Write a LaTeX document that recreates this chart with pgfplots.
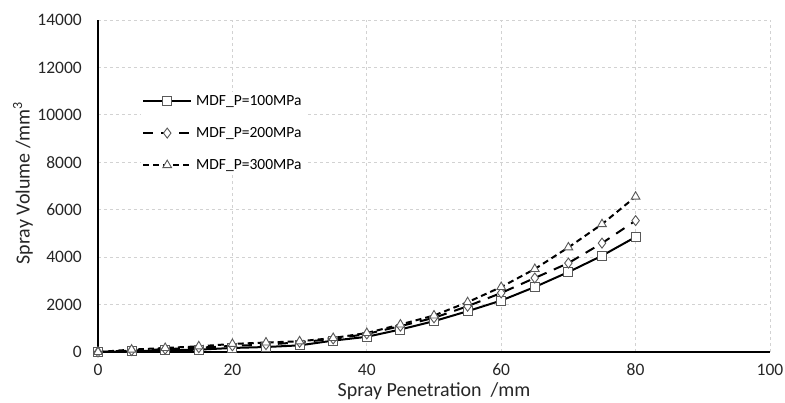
\documentclass[border=0pt]{standalone}
\usepackage{pgfplots}
\pgfplotsset{compat=1.18}
\usepackage{fontspec}
\setmainfont{Carlito}
\begin{document}
\begin{tikzpicture}[x=1pt,y=1pt]
\useasboundingbox (-98pt,-51pt) rectangle (687pt,352pt);
\begin{axis}[
  at={(0pt,0pt)}, anchor=south west,
  scale only axis,
  width=672pt, height=332pt,
  xmin=0, xmax=100, ymin=0, ymax=14000,
  xtick={0,20,...,100}, ytick={0,2000,...,14000},
  scaled ticks=false,
  axis x line*=bottom, axis y line*=left,
  axis line style={line width=1.8pt,-},
  major tick length=0pt,
  grid=major,
  major grid style={dashed,gray!35,line width=0.8pt},
  /pgf/number format/assume math mode=true,
  /pgf/number format/1000 sep={},
  ticklabel style={font=\fontsize{17.5}{20}\selectfont, text=black!85, inner sep=0pt},
  xticklabel style={anchor=center, yshift=-18pt},
  yticklabel style={anchor=east, xshift=-16pt},
  xlabel={Spray Penetration\ \ /mm},
  ylabel={Spray Volume /mm\textsuperscript{3}},
  label style={font=\fontsize{20}{24}\selectfont, text=black!85, inner sep=0pt},
  xlabel style={at={(axis description cs:0.5,0)}, anchor=center, yshift=-39pt},
  ylabel style={at={(axis description cs:0,0.5)}, anchor=center, yshift=75pt, xshift=3pt},
  legend style={draw=none, fill=white, at={(0.064,0.783)}, anchor=north west,
    font=\fontsize{15.5}{18}\selectfont, row sep=16.5pt, inner sep=1pt,
    nodes={inner xsep=4pt}},
  legend cell align=left,
  legend image code/.code={
    \draw[#1,mark repeat=2,mark phase=2] plot coordinates {(0pt,0pt) (24pt,0pt) (48pt,0pt)};},
  every axis plot/.append style={line width=2pt, black,
    mark options={solid, draw=black!65, fill=white, line width=0.9pt}},
  clip=false,
]
\addplot[mark=square*, mark size=4.5pt] coordinates {
(0,0) (5,30) (10,70) (15,100) (20,170) (25,210) (30,280) (35,480) (40,640)
(45,950) (50,1300) (55,1720) (60,2170) (65,2740) (70,3370) (75,4060) (80,4850)};
\addlegendentry{MDF\_P=100MPa}
\addplot[mark=diamond*, mark size=5pt, dash pattern=on 10pt off 8pt] coordinates {
(0,0) (5,60) (10,120) (15,180) (20,260) (25,310) (30,410) (35,550) (40,760)
(45,1090) (50,1440) (55,1930) (60,2490) (65,3120) (70,3750) (75,4590) (80,5540)};
\addlegendentry{MDF\_P=200MPa}
\addplot[mark=triangle*, mark size=5pt, dash pattern=on 6pt off 4pt] coordinates {
(0,0) (5,100) (10,170) (15,240) (20,340) (25,400) (30,450) (35,590) (40,800)
(45,1160) (50,1540) (55,2100) (60,2740) (65,3500) (70,4410) (75,5390) (80,6550)};
\addlegendentry{MDF\_P=300MPa}
\end{axis}
\end{tikzpicture}
\end{document}
